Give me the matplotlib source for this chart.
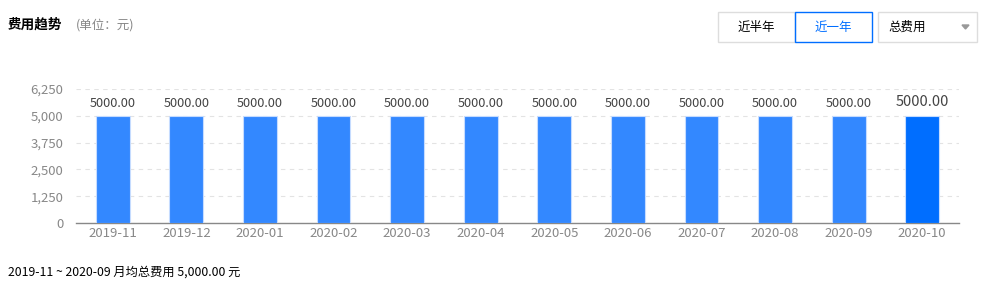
import matplotlib
matplotlib.use('Agg')
import matplotlib.pyplot as plt
from matplotlib.patches import Rectangle, Polygon

plt.rcParams['font.family'] = ['Noto Sans CJK SC', 'DejaVu Sans']

months = ['2019-11', '2019-12', '2020-01', '2020-02', '2020-03', '2020-04',
          '2020-05', '2020-06', '2020-07', '2020-08', '2020-09', '2020-10']
costs = [5000, 5000, 5000, 5000, 5000, 5000, 5000, 5000, 5000, 5000, 5000, 5000]
yticks = [0, 1250, 2500, 3750, 5000, 6250]
ytick_labels = ['0', '1,250', '2,500', '3,750', '5,000', '6,250']

W, H = 981, 290
fig = plt.figure(figsize=(W / 100, H / 100), dpi=100)

def fx(x):
    return x / W

def fy(y):
    return 1 - y / H

ax = fig.add_axes([fx(76), fy(223), fx(959) - fx(76), fy(89) - fy(223)])
x = list(range(len(months)))
colors = ['#3388ff'] * (len(months) - 1) + ['#006eff']
ax.bar(x, costs, width=0.46, color=colors, edgecolor='#c6dcff', linewidth=0.8, zorder=3)
for i, v in enumerate(costs):
    last = i == len(costs) - 1
    ax.text(i, v + 260 + (60 if last else 0), '%.2f' % v, ha='center', va='bottom',
            fontsize=10.5 if last else 9.2, color='#444444')

ax.set_xlim(-0.5, len(months) - 0.5)
ax.set_ylim(0, 6250)
ax.set_yticks(yticks)
ax.set_yticklabels(ytick_labels)
ax.set_xticks(x)
ax.set_xticklabels(months)
ax.tick_params(axis='both', length=0, labelsize=9.5, labelcolor='#888888')
ax.tick_params(axis='y', pad=9)
ax.tick_params(axis='x', pad=3)
ax.yaxis.grid(True, color='#e3e3e3', linestyle=(0, (4, 4)), linewidth=0.8, zorder=0)
for s in ['top', 'right', 'left']:
    ax.spines[s].set_visible(False)
ax.spines['bottom'].set_color('#888888')
ax.spines['bottom'].set_linewidth(1)

# header
fig.text(fx(8), fy(25), '费用趋势', fontsize=9.8, fontweight='bold', color='#000000', va='center')
fig.text(fx(76), fy(25), '(单位：元)', fontsize=9, color='#888888', va='center')

# buttons
def box(x0, y0, x1, y1, ec, lw=1):
    fig.patches.append(Rectangle((fx(x0), fy(y1)), fx(x1) - fx(x0), fy(y0) - fy(y1),
                                 transform=fig.transFigure, fill=False, edgecolor=ec, linewidth=lw))

box(718, 12, 795, 42, '#dddddd')
box(795, 12, 872, 42, '#006eff')
box(878, 12, 977, 42, '#dddddd')
fig.text(fx(756), fy(27), '近半年', fontsize=9, color='#000000', ha='center', va='center')
fig.text(fx(833), fy(27), '近一年', fontsize=9, color='#006eff', ha='center', va='center')
fig.text(fx(888), fy(27), '总费用', fontsize=9, color='#000000', ha='left', va='center')
fig.patches.append(Polygon([(fx(962), fy(25)), (fx(969), fy(25)), (fx(965.5), fy(29))],
                           closed=True, transform=fig.transFigure, color='#999999'))

# footer
fig.text(fx(8), fy(272), '2019-11 ~ 2020-09 月均总费用 5,000.00 元', fontsize=8.8,
         color='#000000', va='center')

fig.savefig('out.png', dpi=100)
